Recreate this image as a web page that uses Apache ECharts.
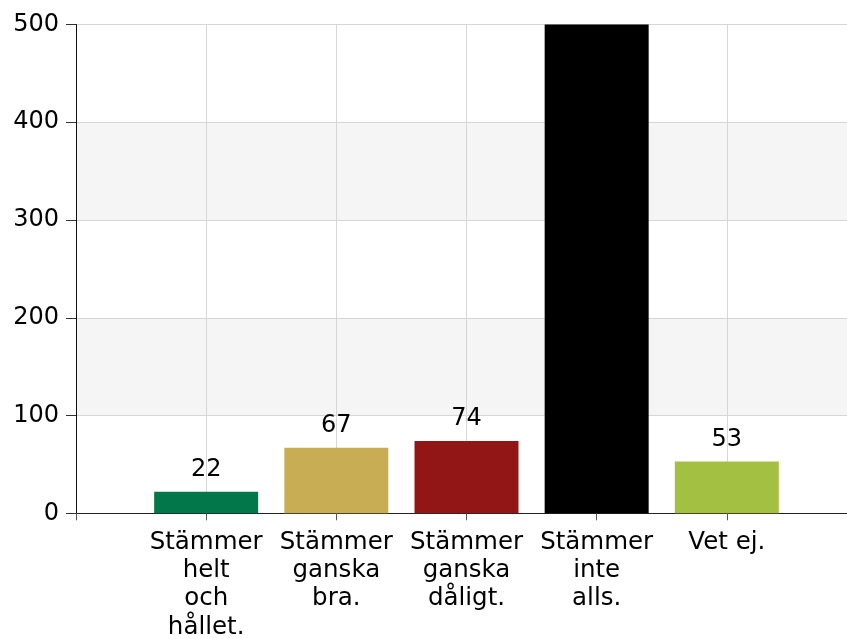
<!DOCTYPE html>
<html>
<head>
<meta charset="utf-8">
<script src="https://cdn.jsdelivr.net/npm/echarts@6/dist/echarts.min.js"></script>
<style>
    html, body { margin: 0; padding: 0; background: #fff; }
    #chart { width: 847px; height: 639px; }
</style>
</head>
<body>
<div id="chart"></div>
<script>
// svar per alternativ (fjärde stapeln går utanför skalan)
const categories = ['Stämmer\nhelt\noch\nhållet.', 'Stämmer\nganska\nbra.', 'Stämmer\nganska\ndåligt.', 'Stämmer\ninte\nalls.', 'Vet ej.']
const values = [22, 67, 74, 520, 53]
const barColors = ['#02784a', '#c9ad55', '#921616', '#000000', '#a3c042']
const showLabel = [true, true, true, false, true]
const yTicks = [0, 100, 200, 300, 400, 500]

const font = 'DejaVu Sans'

// tom plats först och sist så att staplarna hamnar på rutnätslinjerna
const axisData = [''].concat(categories, [''])
const barData = ['-'].concat(values.map((v, i) => ({
    value: v,
    itemStyle: { color: barColors[i] },
    label: { show: showLabel[i] }
})), ['-'])

const chart = echarts.init(document.getElementById('chart'), null, { renderer: 'canvas' })

chart.setOption({
    backgroundColor: '#fff',
    animation: false,
    grid: { left: 76, top: 24.5, right: -10, bottom: 125.7, outerBoundsMode: 'none' },
    xAxis: {
        type: 'category',
        data: axisData,
        boundaryGap: false,
        axisLine: { lineStyle: { color: '#222', width: 1 } },
        axisTick: { show: true, length: 7, interval: 0, lineStyle: { color: '#555' } },
        axisLabel: {
            interval: 0,
            margin: 15,
            color: '#000',
            fontFamily: font,
            fontSize: 24.5,
            lineHeight: 28.3
        },
        splitLine: { show: true, interval: 0, lineStyle: { color: '#d6d6d6' } }
    },
    yAxis: {
        type: 'value',
        min: yTicks[0],
        max: yTicks[yTicks.length - 1],
        interval: 100,
        axisLine: { show: true, lineStyle: { color: '#111', width: 1 } },
        axisTick: { show: true, length: 10, lineStyle: { color: '#333' } },
        axisLabel: {
            margin: 17,
            color: '#000',
            fontFamily: font,
            fontSize: 24
        },
        splitLine: { show: true, lineStyle: { color: '#d6d6d6' } },
        splitArea: { show: true, areaStyle: { color: ['rgba(255,255,255,0)', '#f5f5f5'] } }
    },
    series: [
        {
            type: 'bar',
            data: barData,
            barWidth: 104,
            clip: true,
            label: {
                show: true,
                position: 'top',
                distance: 10,
                color: '#000',
                fontFamily: font,
                fontSize: 24
            }
        }
    ]
})
</script>
</body>
</html>
